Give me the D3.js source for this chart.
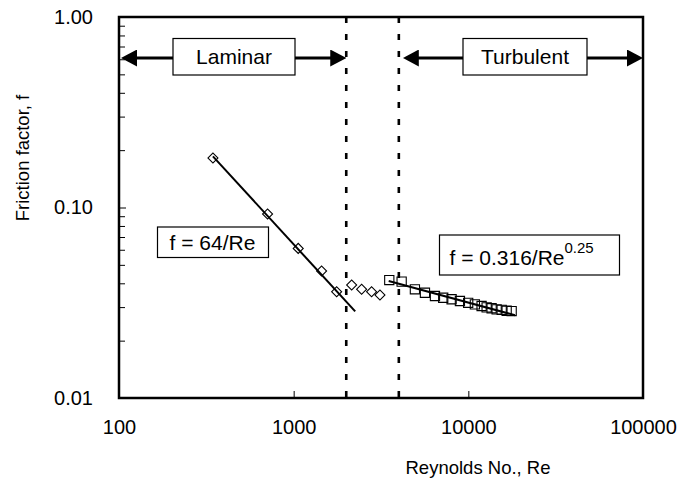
<!DOCTYPE html>
<html>
<head>
<meta charset="utf-8">
<script src="https://cdn.jsdelivr.net/npm/d3@7"></script>
<style>
  html, body { margin: 0; padding: 0; background: #fff; }
  svg { display: block; font-family: "Liberation Sans", Arial, sans-serif; }
</style>
</head>
<body>
<div id="chart"></div>
<script>
// measured points (Re, f)
const laminarRe = [345, 709, 1062, 1445, 1762];
const laminarF = [0.182, 0.0925, 0.061, 0.0464, 0.0361];

const transRe = [2148, 2449, 2793, 3119];
const transF = [0.0392, 0.0372, 0.0361, 0.0347];

const turbRe = [3527, 4151, 4944, 5645, 6441, 7182, 8020, 8950, 9980, 10900, 11910, 12730, 13590, 14520, 15520, 16570, 17700];
const turbF = [0.0416, 0.0408, 0.0372, 0.0357, 0.0343, 0.0336, 0.0330, 0.0323, 0.0316, 0.0310, 0.0304, 0.0299, 0.0296, 0.0292, 0.0290, 0.0287, 0.0286];

// fit lines (end points, straight on log-log)
const lamFitRe = [345, 2250];
const lamFitF = [0.1855, 0.0285];
const turbFitRe = [3500, 18500];
const turbFitF = [0.0411, 0.0272];

// regime boundaries
const boundaries = [2000, 4000];

const xTicks = [100, 1000, 10000, 100000];
const yTicks = [0.01, 0.1, 1];
const yTickLabels = ["0.01", "0.10", "1.00"];
const yMinor = [0.02, 0.03, 0.04, 0.05, 0.06, 0.07, 0.08, 0.09, 0.2, 0.3, 0.4, 0.5, 0.6, 0.7, 0.8, 0.9];

const W = 681, H = 485;
const plotL = 119, plotR = 643, plotT = 17, plotB = 398;

const x = d3.scaleLog().domain([100, 100000]).range([plotL, plotR]);
const y = d3.scaleLog().domain([0.01, 1]).range([plotB, plotT]);

const svg = d3.select("#chart").append("svg")
  .attr("width", W).attr("height", H);

svg.append("rect").attr("width", W).attr("height", H).attr("fill", "#fff");

// arrow head marker
svg.append("defs").append("marker")
  .attr("id", "arrow")
  .attr("viewBox", "0 0 16 17")
  .attr("refX", 12).attr("refY", 8.5)
  .attr("markerWidth", 16).attr("markerHeight", 17)
  .attr("markerUnits", "userSpaceOnUse")
  .attr("orient", "auto-start-reverse")
  .append("path")
  .attr("d", "M0,0 L16,8.5 L0,17 Z")
  .attr("fill", "#000");

// axes
const xAxis = svg.append("g")
  .attr("transform", `translate(0,${plotB})`)
  .call(d3.axisBottom(x).tickValues(xTicks).tickFormat(d3.format("d")).tickSize(-7).tickPadding(22));

const yAxis = svg.append("g")
  .attr("transform", `translate(${plotL},0)`)
  .call(d3.axisLeft(y).tickValues(yTicks).tickFormat((d, i) => yTickLabels[i]).tickSize(-7).tickPadding(26));

svg.append("g")
  .attr("transform", `translate(${plotL},0)`)
  .call(d3.axisLeft(y).tickValues(yMinor).tickFormat("").tickSize(-6))
  .select(".domain").remove();

xAxis.select(".domain").remove();
yAxis.select(".domain").remove();

svg.selectAll(".tick line").attr("stroke", "#000").attr("stroke-width", 1);
xAxis.selectAll("text").attr("font-size", 20).attr("fill", "#000").attr("font-family", "Liberation Sans, Arial, sans-serif");
yAxis.selectAll("text").attr("font-size", 20).attr("fill", "#000").attr("font-family", "Liberation Sans, Arial, sans-serif");

// boundary lines
svg.selectAll(".bound")
  .data(boundaries)
  .enter().append("line")
  .attr("x1", d => x(d)).attr("x2", d => x(d))
  .attr("y1", plotT).attr("y2", plotB)
  .attr("stroke", "#000")
  .attr("stroke-width", 2.6)
  .attr("stroke-dasharray", "6,11");

// plot border
svg.append("rect")
  .attr("x", plotL).attr("y", plotT)
  .attr("width", plotR - plotL).attr("height", plotB - plotT)
  .attr("fill", "none").attr("stroke", "#000").attr("stroke-width", 2.5);

// regime arrows
const arrowY = 58;
const arrows = [[100, boundaries[0]], [boundaries[1], 100000]];
svg.selectAll(".arrow")
  .data(arrows)
  .enter().append("line")
  .attr("x1", (d, i) => x(d[0]) + (i === 0 ? 2 : 4) + 4)
  .attr("x2", (d, i) => x(d[1]) - 4)
  .attr("y1", arrowY).attr("y2", arrowY)
  .attr("stroke", "#000").attr("stroke-width", 3)
  .attr("marker-start", "url(#arrow)")
  .attr("marker-end", "url(#arrow)");

function labelBox(x0, y0, w, h) {
  svg.append("rect")
    .attr("x", x0).attr("y", y0).attr("width", w).attr("height", h)
    .attr("fill", "#fff").attr("stroke", "#000").attr("stroke-width", 1.2);
}

labelBox(173, 38.5, 122, 36.5);
svg.append("text").attr("x", 234).attr("y", 64)
  .attr("text-anchor", "middle").attr("font-size", 21).text("Laminar");

labelBox(463, 38.5, 124, 36.5);
svg.append("text").attr("x", 525).attr("y", 64)
  .attr("text-anchor", "middle").attr("font-size", 21).text("Turbulent");

// fit lines
const line = d3.line().x(d => x(d[0])).y(d => y(d[1]));
svg.append("path")
  .datum(lamFitRe.map((r, i) => [r, lamFitF[i]]))
  .attr("d", line).attr("fill", "none").attr("stroke", "#000").attr("stroke-width", 2);
svg.append("path")
  .datum(turbFitRe.map((r, i) => [r, turbFitF[i]]))
  .attr("d", line).attr("fill", "none").attr("stroke", "#000").attr("stroke-width", 2);

// markers
const diamond = d3.symbol().type(d3.symbolSquare).size(50);
const square = d3.symbol().type(d3.symbolSquare).size(85);

const diamonds = laminarRe.map((r, i) => [r, laminarF[i]])
  .concat(transRe.map((r, i) => [r, transF[i]]));

svg.selectAll(".dia")
  .data(diamonds)
  .enter().append("path")
  .attr("d", diamond)
  .attr("transform", d => `translate(${x(d[0])},${y(d[1])}) rotate(45)`)
  .attr("fill", "none").attr("stroke", "#000").attr("stroke-width", 1.1);

svg.selectAll(".sq")
  .data(turbRe.map((r, i) => [r, turbF[i]]))
  .enter().append("path")
  .attr("d", square)
  .attr("transform", d => `translate(${x(d[0])},${y(d[1])})`)
  .attr("fill", "none").attr("stroke", "#000").attr("stroke-width", 1.1);

// equation labels
labelBox(157.5, 227, 111, 30.5);
svg.append("text").attr("x", 212.5).attr("y", 249.5)
  .attr("text-anchor", "middle").attr("font-size", 21).text("f = 64/Re");

labelBox(439.5, 235, 180, 40);
const eq = svg.append("text").attr("x", 449.5).attr("y", 265).attr("font-size", 21);
eq.append("tspan").text("f = 0.316/Re");
eq.append("tspan").attr("font-size", 15).attr("dy", -12).text("0.25");

// axis titles
svg.append("text")
  .attr("x", 478).attr("y", 474)
  .attr("text-anchor", "middle").attr("font-size", 18.5)
  .text("Reynolds No., Re");

svg.append("text")
  .attr("transform", "translate(29,158) rotate(-90)")
  .attr("text-anchor", "middle").attr("font-size", 18.5)
  .text("Friction factor, f");
</script>
</body>
</html>
